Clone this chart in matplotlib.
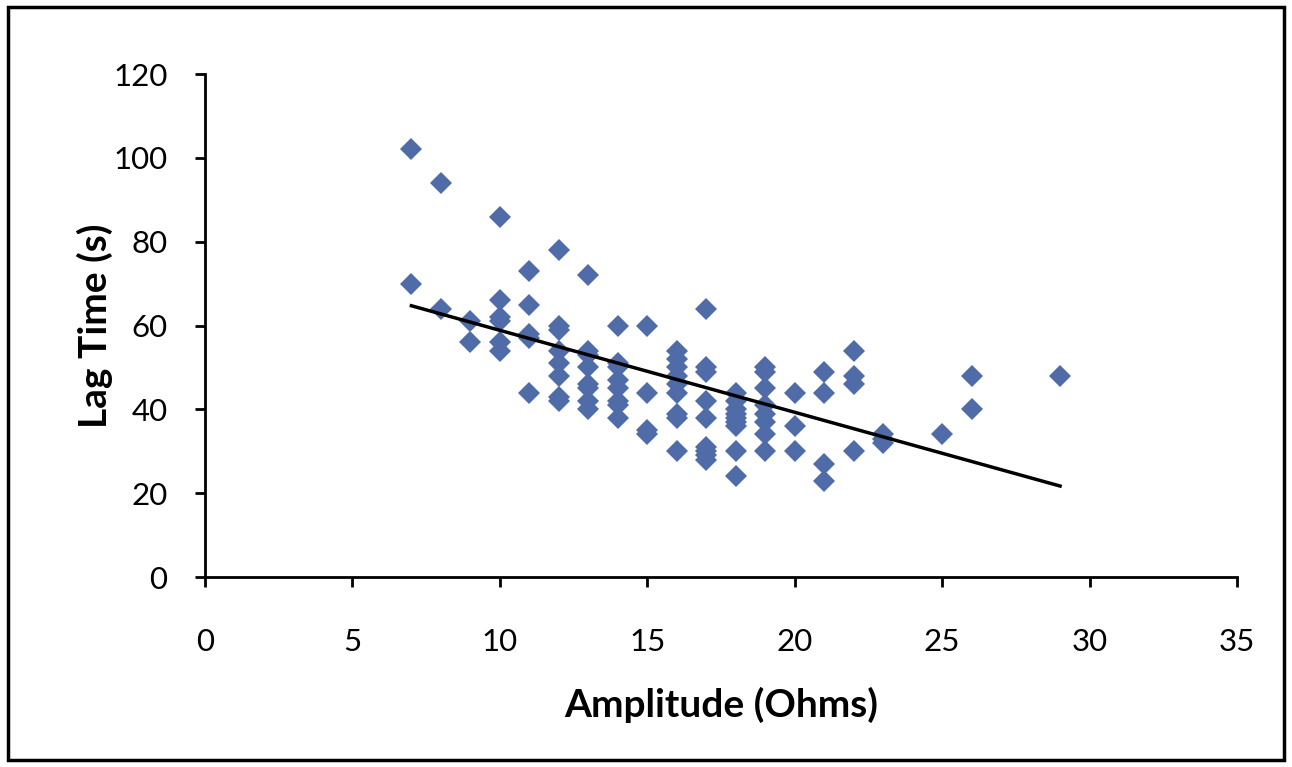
import matplotlib.pyplot as plt
from matplotlib.patches import Rectangle

# Data, one column of points per amplitude value
amplitude = (
    [7] * 2 + [8] * 2 + [9] * 2 + [10] * 6 + [11] * 5 + [12] * 8 + [13] * 8
    + [14] * 8 + [15] * 4 + [16] * 9 + [17] * 9 + [18] * 9 + [19] * 8
    + [20] * 3 + [21] * 4 + [22] * 4 + [23] * 3 + [25] + [26] * 2 + [29]
)
lag_time = [
    102, 70,
    94, 64,
    61, 56,
    86, 66, 62, 61, 56, 54,
    73, 65, 58, 57, 44,
    78, 60, 59, 54, 51, 48, 43, 42,
    72, 54, 53, 50, 46, 45, 42, 40,
    60, 51, 50, 47, 45, 42, 41, 38,
    60, 44, 35, 34,
    54, 52, 50, 48, 46, 44, 39, 38, 30,
    64, 50, 49, 42, 38, 31, 30, 29, 28,
    44, 42, 40, 39, 38, 37, 36, 30, 24,
    50, 49, 45, 41, 39, 37, 34, 30,
    44, 36, 30,
    49, 44, 27, 23,
    54, 48, 46, 30,
    34, 33, 32,
    34,
    48, 40,
    48,
]

# Linear trend line as drawn in the chart
trend_x = [7, 29]
trend_slope = -1.955
trend_intercept = 78.4

x_ticks = [0, 5, 10, 15, 20, 25, 30, 35]
y_ticks = [0, 20, 40, 60, 80, 100, 120]

plt.rcParams["font.family"] = ["Lato", "DejaVu Sans"]

fig = plt.figure(figsize=(12.92, 7.67), dpi=100)
ax = fig.add_axes([0.1587, 0.2477, 0.7987, 0.6558])

ax.plot(amplitude, lag_time, linestyle="none", marker="D",
        markersize=11, color="#4f6ba8", markeredgewidth=0)

trend_y = [trend_intercept + trend_slope * x for x in trend_x]
ax.plot(trend_x, trend_y, color="black", linewidth=2.5)

ax.set_xlim(0, 35)
ax.set_ylim(0, 120)
ax.set_xticks(x_ticks)
ax.set_yticks(y_ticks)

for side in ["top", "right"]:
    ax.spines[side].set_visible(False)
for side in ["left", "bottom"]:
    ax.spines[side].set_linewidth(2)
ax.tick_params(direction="out", length=7, width=2, labelsize=22.5)
ax.tick_params(axis="x", pad=30)
ax.tick_params(axis="y", pad=20)

ax.set_xlabel("Amplitude (Ohms)", fontsize=28, fontweight="bold", labelpad=22)
ax.set_ylabel("Lag Time (s)", fontsize=28, fontweight="bold", labelpad=0)

# outer chart frame
fig.patches.append(Rectangle((0.006, 0.009), 0.988, 0.982, transform=fig.transFigure,
                             fill=False, edgecolor="black", linewidth=2.5))

fig.savefig("out.png", dpi=100)
